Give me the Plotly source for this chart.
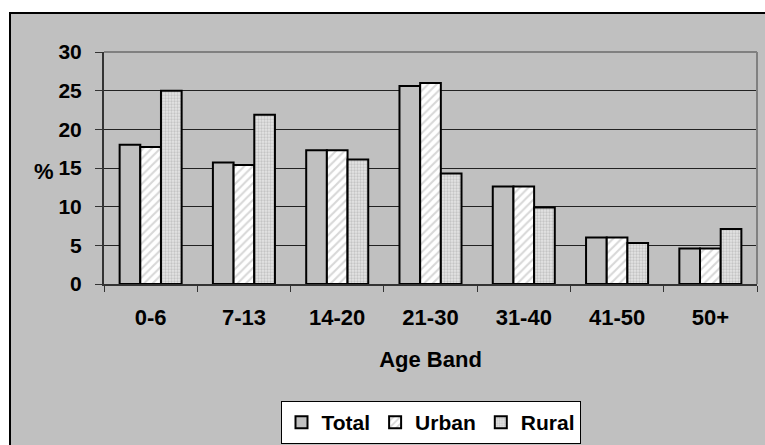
import plotly.graph_objects as go

age_bands = ["0-6", "7-13", "14-20", "21-30", "31-40", "41-50", "50+"]
total = [18.0, 15.7, 17.3, 25.6, 12.6, 6.0, 4.6]
urban = [17.7, 15.4, 17.3, 26.0, 12.6, 6.0, 4.6]
rural = [25.0, 21.9, 16.1, 14.3, 9.9, 5.3, 7.1]
y_ticks = [0, 5, 10, 15, 20, 25, 30]

FONT = "Arial, 'Liberation Sans', sans-serif"
W, H = 765, 445
L, R, T, B = 104, 8, 52, 161
PW, PH = W - L - R, H - T - B


def px_x(p):
    return (p - L) / PW


def px_y(p):
    return (H - B - p) / PH


def bold(size):
    return dict(family=FONT, size=size, color="black", weight="bold")


outline = dict(color="black", width=2)

fig = go.Figure()
fig.add_trace(go.Bar(
    name="Total", x=age_bands, y=total,
    marker=dict(color="#c0c0c0", line=outline),
))
fig.add_trace(go.Bar(
    name="Urban", x=age_bands, y=urban,
    marker=dict(color="white", line=outline,
                pattern=dict(shape="/", fgcolor="#b0b0b0", bgcolor="white",
                             size=6, solidity=0.35)),
))
fig.add_trace(go.Bar(
    name="Rural", x=age_bands, y=rural,
    marker=dict(color="#d8d8d8", line=outline,
                pattern=dict(shape=".", fgcolor="#a4a4a4", bgcolor="#e4e4e4",
                             size=3, solidity=0.45)),
))

# grey chart frame with a black border along top and left
fig.add_shape(type="rect", xref="paper", yref="paper",
              x0=px_x(10), x1=px_x(W + 10), y0=px_y(H + 10), y1=px_y(13),
              fillcolor="#c0c0c0", line=dict(color="black", width=2),
              layer="below")

# "%" axis caption, written horizontally
fig.add_annotation(text="%", xref="paper", yref="paper",
                   x=px_x(44), y=px_y(171), xanchor="center", yanchor="middle",
                   showarrow=False, font=bold(22))

fig.update_layout(
    width=W, height=H,
    margin=dict(l=L, r=R, t=T, b=B, autoexpand=False),
    paper_bgcolor="white",
    plot_bgcolor="white",
    barmode="group",
    bargap=0.335,
    bargroupgap=0,
    font=bold(22),
    showlegend=True,
    legend=dict(
        orientation="h", x=px_x(430.5), xanchor="center", y=px_y(401), yanchor="top",
        bgcolor="white", bordercolor="black", borderwidth=1,
        font=bold(21), itemwidth=30, tracegroupgap=0,
    ),
    xaxis=dict(
        title=dict(text="Age Band", standoff=22, font=bold(22)),
        tickmode="array", tickvals=age_bands, ticktext=age_bands,
        tickfont=bold(22),
        ticks="outside", tickson="boundaries", ticklen=6, tickcolor="#333",
        ticklabelstandoff=13,
        showline=True, linecolor="#333", linewidth=2,
        showgrid=False, fixedrange=True,
    ),
    yaxis=dict(
        range=[0, 30],
        tickmode="array", tickvals=y_ticks, ticktext=[str(v) for v in y_ticks],
        tickfont=bold(21),
        ticks="outside", ticklen=7, tickcolor="#333",
        ticklabelstandoff=9,
        showline=True, linecolor="#333", linewidth=2,
        showgrid=True, gridcolor="#222", gridwidth=1,
        zeroline=False, fixedrange=True,
    ),
)

# grey border along the top and right of the plot area
fig.add_shape(type="line", xref="paper", yref="paper", x0=0, x1=1, y0=1, y1=1,
              line=dict(color="#808080", width=2))
fig.add_shape(type="line", xref="paper", yref="paper", x0=1, x1=1, y0=0, y1=1,
              line=dict(color="#808080", width=2))

fig.write_html("out.html")
